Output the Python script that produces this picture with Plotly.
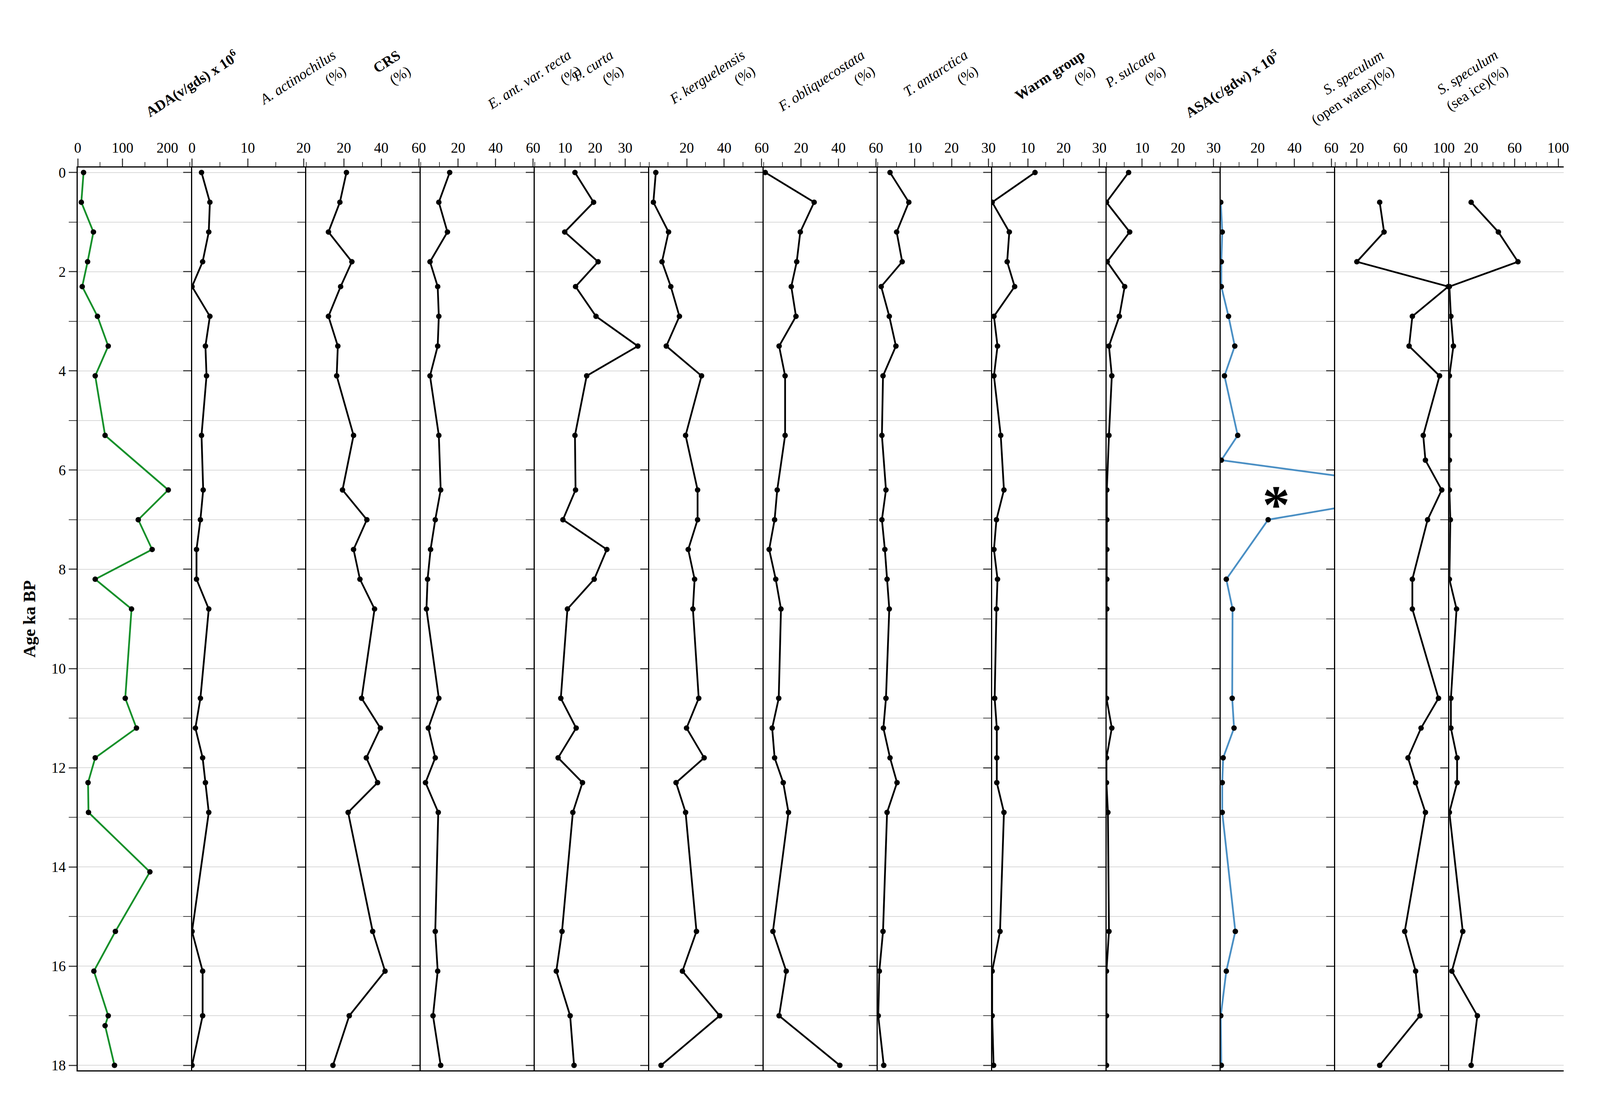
import plotly.graph_objects as go
from plotly.subplots import make_subplots

ages = [0, 0.6, 1.2, 1.8, 2.3, 2.9, 3.5, 4.1, 5.3, 6.4, 7.0, 7.6, 8.2, 8.8,
        10.6, 11.2, 11.8, 12.3, 12.9, 15.3, 16.1, 17.0, 18.0]
ada_ages = [0, 0.6, 1.2, 1.8, 2.3, 2.9, 3.5, 4.1, 5.3, 6.4, 7.0, 7.6, 8.2, 8.8,
            10.6, 11.2, 11.8, 12.3, 12.9, 14.1, 15.3, 16.1, 17.0, 17.2, 18.0]
ada = [13, 8, 35, 22, 10, 44, 68, 39, 61, 202, 135, 166, 39, 120,
       106, 131, 39, 23, 24, 161, 84, 36, 68, 61, 82]
a_act = [1.7, 3.2, 3.0, 1.9, 0, 3.2, 2.4, 2.6, 1.7, 2.0, 1.5, 0.8, 0.8, 3.0,
         1.5, 0.6, 1.9, 2.4, 3.0, 0, 1.9, 1.9, 0]
crs = [21.4, 17.9, 11.8, 24.3, 18.3, 11.8, 16.8, 16.2, 25.2, 19.3, 32.3, 25.2, 28.6, 36.4,
       29.5, 39.5, 32, 38, 22.3, 35.4, 42, 22.9, 14.2]
e_ant = [15.5, 9.7, 14.3, 5, 9.1, 9.7, 9.1, 5, 9.7, 10.7, 7.8, 5.3, 3.7, 3.1,
         9.7, 4.1, 7.8, 2.6, 9.4, 7.8, 9.1, 6.6, 10.7]
f_curta = [13.3, 19.5, 9.9, 21, 13.5, 20.3, 34.2, 17.2, 13.3, 13.5, 9.3, 23.9, 19.7, 10.8,
           8.6, 13.7, 7.7, 15.8, 12.6, 9.0, 7.1, 11.7, 13.0]
f_kerg = [3.5, 2.2, 10.3, 6.8, 11.5, 16.1, 9.1, 27.9, 19.4, 25.8, 25.8, 20.8, 24.2, 23.3,
          26.4, 19.9, 29.3, 14.3, 19.4, 25.2, 17.7, 37.6, 6.3]
f_obl = [0.9, 27, 19.6, 17.7, 14.8, 17.3, 8.3, 11.5, 11.5, 7.3, 5.9, 3, 6.5, 9.3,
         8.1, 4.6, 5.9, 10.5, 13.3, 5.0, 12.1, 8.3, 40.7]
t_ant = [3.3, 8.4, 5.1, 6.6, 0.9, 3.1, 4.9, 1.4, 1.1, 2.2, 1.1, 1.9, 2.5, 3.1,
         2.2, 1.5, 3.3, 5.2, 2.5, 1.4, 0.4, 0.1, 1.6]
warm = [12, 0, 4.8, 4.2, 6.3, 0.5, 1.5, 0.5, 2.4, 3.3, 1.2, 0.5, 1.5, 1.2,
        0.7, 1.3, 1.3, 1.3, 3.3, 2.2, 0, 0, 0.4]
p_sulc = [6.2, 0, 6.5, 0.2, 5.1, 3.6, 0.7, 1.5, 0.7, 0.1, 0.1, 0.1, 0.1, 0.1,
          0, 1.5, 0, 0, 0.4, 0.7, 0, 0, 0]
asa_ages = [0.6, 1.2, 1.8, 2.3, 2.9, 3.5, 4.1, 5.3, 5.8, 6.4, 7.0, 8.2, 8.8,
            10.6, 11.2, 11.8, 12.3, 12.9, 15.3, 16.1, 17.0, 18.0]
asa = [0, 0.8, 0.3, 0.3, 4.2, 7.6, 2, 9.2, 0.3, 120, 25.7, 3, 6.4,
       6.2, 7.2, 1.3, 0.8, 0.8, 7.9, 3, 0, 0.3]
s_ages = [0.6, 1.2, 1.8, 2.3, 2.9, 3.5, 4.1, 5.3, 5.8, 6.4, 7.0, 8.2, 8.8,
          10.6, 11.2, 11.8, 12.3, 12.9, 15.3, 16.1, 17.0, 18.0]
s_open = [41, 45, 20, 104, 71, 68, 96, 81, 83, 98, 85, 71, 71,
          95, 79, 67, 74, 83, 64, 74, 78, 41]
s_ice = [20, 45, 63, 0, 1.4, 3.7, 0, 0, 0, 0, 0.9, 0, 6.6,
         1.4, 1.4, 7.1, 7.1, 0, 12.3, 2.3, 25.7, 20]

titles = ["<b>ADA(v/gds) x 10<sup>6</sup></b>", "<i>A. actinochilus</i><br>(%)",
          "<b>CRS</b><br>(%)", "<i>E. ant. var. recta</i><br>(%)", "<i>F. curta</i><br>(%)",
          "<i>F. kerguelensis</i><br>(%)", "<i>F. obliquecostata</i><br>(%)",
          "<i>T. antarctica</i><br>(%)", "<b>Warm group</b><br>(%)", "<i>P. sulcata</i><br>(%)",
          "<b>ASA(c/gdw) x 10<sup>5</sup></b>", "<i>S. speculum</i><br>(open water)(%)",
          "<i>S. speculum</i><br>(sea ice)(%)"]
series = [(ada_ages, ada), (ages, a_act), (ages, crs), (ages, e_ant), (ages, f_curta),
          (ages, f_kerg), (ages, f_obl), (ages, t_ant), (ages, warm), (ages, p_sulc),
          (asa_ages, asa), (s_ages, s_open), (s_ages, s_ice)]
ranges = [255, 20.5, 61, 61, 38, 61, 61, 31, 32, 32, 62, 105, 105]
tickv = [[0, 100, 200], [0, 10, 20], [20, 40, 60], [20, 40, 60], [10, 20, 30],
         [20, 40, 60], [20, 40, 60], [10, 20, 30], [10, 20, 30], [10, 20, 30],
         [20, 40, 60], [20, 60, 100], [20, 60, 100]]
minor = [50, 5, 10, 10, 5, 10, 10, 5, 5, 5, 10, 10, 10]
colors = ["#15902a"] + ["black"] * 9 + ["#4a8fc4", "black", "black"]

N = 13
fig = make_subplots(rows=1, cols=N, shared_yaxes=True, horizontal_spacing=0)
font = "Liberation Serif"
for i in range(N):
    x, y = series[i]
    fig.add_trace(go.Scatter(x=y, y=x, mode="lines+markers",
                             line=dict(color=colors[i], width=4.5),
                             marker=dict(color="black", size=14),
                             showlegend=False), row=1, col=i + 1)
    fig.update_xaxes(row=1, col=i + 1, range=[0, ranges[i]], side="top",
                     tickvals=tickv[i], ticks="outside", ticklen=20, tickwidth=3,
                     minor=dict(dtick=minor[i], ticks="outside", ticklen=11, tickwidth=2),
                     showline=True, mirror=True, linecolor="black", linewidth=3,
                     showgrid=False, zeroline=False,
                     tickfont=dict(family=font, size=37, color="black"))
    fig.update_yaxes(row=1, col=i + 1, range=[18.1, -0.1], tickvals=list(range(0, 19, 2)),
                     ticks="outside", ticklen=20, tickwidth=3,
                     minor=dict(dtick=1, ticks="outside", ticklen=20, tickwidth=2,
                                showgrid=True, gridcolor="#d9d9d9", gridwidth=2),
                     showgrid=True, gridcolor="#d9d9d9", gridwidth=2,
                     showline=True, linecolor="black", linewidth=3, zeroline=False,
                     tickfont=dict(family=font, size=37, color="black"))
    fig.add_annotation(text=titles[i], xref="paper", yref="paper",
                       x=(i + 0.55) / N, y=1.135, textangle=-33, showarrow=False,
                       align="right", font=dict(family=font, size=37, color="black"))

fig.add_annotation(text="<b>*</b>", xref="x11", yref="y11", x=30, y=6.7, showarrow=False,
                   font=dict(family=font, size=140, color="black"))
fig.update_yaxes(row=1, col=1, title=dict(text="<b>Age ka BP</b>",
                 font=dict(family=font, size=44, color="black"), standoff=28))
fig.update_layout(autosize=True, plot_bgcolor="white", paper_bgcolor="white",
                  margin=dict(l=191, r=85, t=421, b=68))
fig.write_html("out.html", default_width="100%", default_height="100%")
